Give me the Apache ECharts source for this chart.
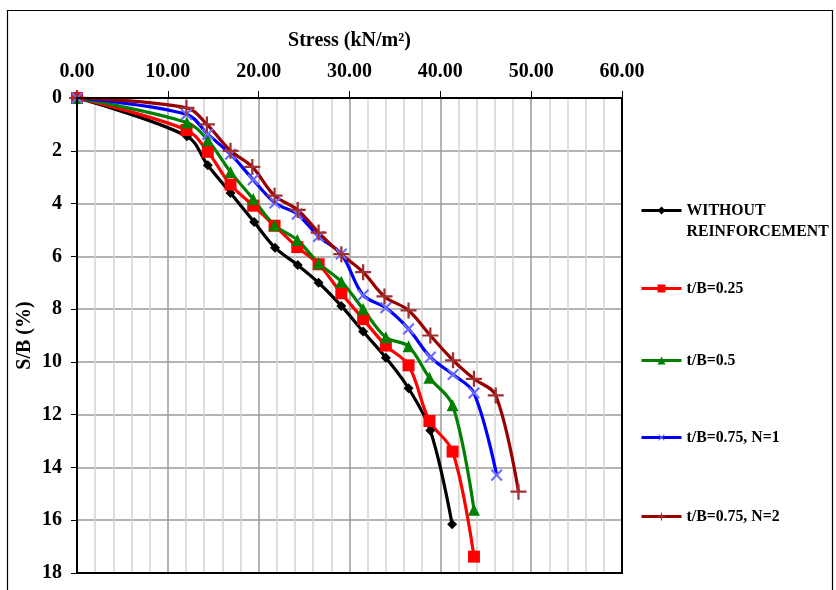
<!DOCTYPE html>
<html>
<head>
<meta charset="utf-8">
<script src="https://cdn.jsdelivr.net/npm/echarts@6/dist/echarts.min.js"></script>
<style>html,body{margin:0;padding:0;background:#fff}#c{width:836px;height:590px}</style>
</head>
<body>
<div id="c"></div>
<script>
var seriesNames = ['WITHOUT REINFORCEMENT', 't/B=0.25', 't/B=0.5', 't/B=0.75, N=1', 't/B=0.75, N=2'];
var xTicks = [0, 10, 20, 30, 40, 50, 60];
var yTicks = [0, 2, 4, 6, 8, 10, 12, 14, 16, 18];

var withoutReinf = [[0,0],[12.1,1.45],[14.4,2.55],[16.9,3.6],[19.5,4.7],[21.8,5.67],[24.3,6.33],[26.6,7.0],[29.1,7.88],[31.5,8.85],[34.0,9.84],[36.5,11.0],[38.9,12.6],[41.3,16.15]];
var tb025 = [[0,0],[12.05,1.21],[14.4,2.04],[16.9,3.28],[19.4,4.08],[21.75,4.84],[24.25,5.65],[26.6,6.3],[29.1,7.4],[31.5,8.38],[34.0,9.38],[36.5,10.13],[38.8,12.24],[41.35,13.4],[43.7,17.38]];
var tb05 = [[0,0],[12.1,0.93],[14.4,1.6],[16.9,2.8],[19.4,3.83],[21.75,4.82],[24.25,5.38],[26.6,6.26],[29.1,6.96],[31.5,8.0],[34.0,9.07],[36.5,9.41],[38.8,10.6],[41.35,11.64],[43.7,15.6]];
var tb075n1 = [[0,0],[12.05,0.62],[14.4,1.37],[16.9,2.13],[19.4,3.1],[21.8,3.98],[24.25,4.4],[26.6,5.25],[29.1,5.91],[31.5,7.47],[34.0,7.95],[36.5,8.75],[38.9,9.82],[41.4,10.48],[43.7,11.18],[46.2,14.29]];
var tb075n2 = [[0,0],[12.05,0.37],[14.3,1.0],[16.9,2.0],[19.3,2.61],[21.75,3.7],[24.3,4.24],[26.6,5.1],[29.1,5.92],[31.5,6.6],[33.85,7.52],[36.5,8.05],[38.9,9.0],[41.4,9.94],[43.7,10.64],[46.1,11.27],[48.6,14.92]];

var FONT = '"Liberation Serif", "Times New Roman", serif';
var plus = 'path://M4.3,0H5.7V4.3H10V5.7H5.7V10H4.3V5.7H0V4.3H4.3Z';

var chart = echarts.init(document.getElementById('c'));

function mk(name, data, color, symbol, size, rot, symColor) {
  return {
    name: name, type: 'line', data: data, smooth: 0.35,
    symbol: symbol, symbolSize: size, symbolRotate: rot || 0,
    lineStyle: {color: color, width: 3.2},
    itemStyle: {color: symColor || color},
    z: 3
  };
}

var legendTops = [179, 278, 350, 427, 506];
var legends = seriesNames.map(function (n, i) {
  return {
    data: [n], orient: 'vertical', left: 640, top: legendTops[i], padding: 0,
    itemWidth: 40, itemHeight: 10, itemGap: 0,
    lineStyle: {width: 3},
    formatter: function (name) { return name === 'WITHOUT REINFORCEMENT' ? '\nWITHOUT\nREINFORCEMENT' : name; },
    textStyle: {fontFamily: FONT, fontWeight: 'bold', fontSize: 15.8, color: '#000', lineHeight: 21}
  };
});

chart.setOption({
  animation: false,
  backgroundColor: '#fff',
  graphic: [{
    type: 'rect', shape: {x: 7.5, y: 10.5, width: 825, height: 620},
    style: {fill: 'none', stroke: '#000', lineWidth: 1.2}, silent: true
  }],
  grid: {left: 77, right: 214, top: 98, bottom: 17, show: true, borderColor: '#000', borderWidth: 2, backgroundColor: 'transparent', z: 4},
  legend: legends,
  xAxis: {
    type: 'value', position: 'top', min: 0, max: 60, interval: 10,
    name: 'Stress (kN/m\u00b2)', nameLocation: 'middle', nameGap: 47,
    nameTextStyle: {fontFamily: FONT, fontWeight: 'bold', fontSize: 20, color: '#000'},
    axisLine: {show: true, lineStyle: {color: '#000', width: 2}},
    axisTick: {show: true, length: 7, lineStyle: {color: '#000', width: 1}},
    axisLabel: {fontFamily: FONT, fontWeight: 'bold', fontSize: 20, color: '#000', margin: 16,
      formatter: function (v) { return v.toFixed(2); }},
    splitLine: {show: true, lineStyle: {color: '#9a9a9a', width: 1.5}},
    minorTick: {show: false, splitNumber: 5},
    minorSplitLine: {show: true, lineStyle: {color: '#d4d4d4', width: 1.5}}
  },
  yAxis: {
    type: 'value', inverse: true, min: 0, max: 18, interval: 2,
    name: 'S/B (%)', nameLocation: 'middle', nameGap: 42, nameMoveOverlap: false,
    nameTextStyle: {fontFamily: FONT, fontWeight: 'bold', fontSize: 20, color: '#000'},
    axisLine: {show: true, lineStyle: {color: '#000', width: 2}},
    axisTick: {show: true, length: 6, lineStyle: {color: '#000', width: 1}},
    axisLabel: {fontFamily: FONT, fontWeight: 'bold', fontSize: 20, color: '#000', margin: 15,
      formatter: function (v) { return String(v); }},
    splitLine: {show: true, lineStyle: {color: '#9a9a9a', width: 1.5}}
  },
  series: [
    mk(seriesNames[0], withoutReinf, '#000000', 'diamond', 10),
    mk(seriesNames[1], tb025, '#ff0000', 'rect', 12),
    mk(seriesNames[2], tb05, '#008000', 'triangle', 12),
    mk(seriesNames[3], tb075n1, '#0000ff', plus, 15, 45, '#6b6bff'),
    mk(seriesNames[4], tb075n2, '#990000', plus, 16, 0, '#a03030')
  ]
});
</script>
</body>
</html>
